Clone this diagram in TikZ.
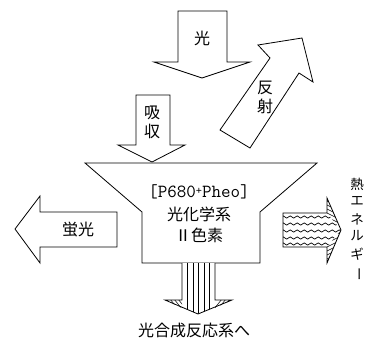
\documentclass[tikz,border=0pt]{standalone}
\usepackage{fontspec}
\newfontfamily\jp{Noto Sans CJK JP}
\usetikzlibrary{decorations.pathmorphing}
\begin{document}
\begin{tikzpicture}[x=1pt,y=-1pt, line width=0.8pt, line join=miter,
  arrowshape/.style={draw=black, fill=white},
  lbl/.style={font=\jp\fontsize{16}{16}\selectfont, inner sep=0pt},
  vlbl/.style={font=\jp\fontsize{13.5}{13.5}\selectfont, inner sep=0pt},
  hatch/.style={line width=0.5pt},
  wave/.style={line width=0.7pt, decorate, decoration={snake, amplitude=1.1pt, segment length=7pt}}]
\useasboundingbox (0,0) rectangle (369,339);

% light arrow
\draw[arrowshape] (178,11) -- (227,11) -- (227,62) -- (250,62) -- (202,78) -- (154,62) -- (178,62) -- cycle;
\node[lbl] (hikari) at (202,38) {光};

% reflection arrow
\draw[arrowshape] (220,130) -- (270,58) -- (258,45) -- (302,38) -- (313,82) -- (299,73) -- (250,148) -- cycle;
\node[lbl] (han) at (265,88) {反};
\node[lbl] (sha) at (265,106) {射};

% absorption arrow
\draw[arrowshape] (136,95) -- (170,95) -- (170,145) -- (185,145) -- (152,162) -- (118,145) -- (136,145) -- cycle;
\node[lbl] (kyu) at (152,113) {吸};
\node[lbl] (shu) at (152,131) {収};

% funnel (pigment system)
\draw[arrowshape] (85,163) -- (317,163) -- (260,212) -- (260,263) -- (142,263) -- (142,212) -- cycle;
\node[inner sep=0pt, font=\ttfamily\fontsize{18.5}{18.5}\selectfont] (p680) at (199,192) {[P680\raisebox{0.4ex}{\fontsize{12}{12}\selectfont +}Pheo]};
\node[lbl] (kei) at (199,214) {光化学系};
\node[lbl] (shiki) at (199,235) {Ⅱ色素};

% fluorescence arrow
\draw[arrowshape] (117,212) -- (117,247) -- (40,247) -- (40,263) -- (15,229) -- (40,196) -- (40,212) -- cycle;
\node[lbl] (keikou) at (78,230) {蛍光};

% heat arrow
\fill[white] (283,213) -- (327,213) -- (327,198) -- (341,230) -- (327,263) -- (327,247) -- (283,247) -- cycle;
\begin{scope}
  \clip (283,213) -- (327,213) -- (341,230) -- (327,247) -- (283,247) -- cycle;
  \foreach \yy in {217,224,231,238,244}
    \draw[wave] (281,\yy) -- (345,\yy);
\end{scope}
\begin{scope}
  \clip (327,198) -- (341,230) -- (327,213) -- cycle;
  \foreach \t in {196,200,...,216}
    \draw[hatch] (325,\t) -- (343,\t+9);
\end{scope}
\begin{scope}
  \clip (327,263) -- (341,230) -- (327,247) -- cycle;
  \foreach \t in {240,244,...,264}
    \draw[hatch] (325,\t) -- (343,\t-9);
\end{scope}
\draw (283,213) -- (327,213) -- (327,198) -- (341,230) -- (327,263) -- (327,247) -- (283,247) -- cycle;
\node[vlbl] (netsu) at (357,184) {熱};
\node[vlbl] (e) at (357,201) {エ};
\node[vlbl] (ne) at (357,219) {ネ};
\node[vlbl] (ru) at (357,236) {ル};
\node[vlbl] (gi) at (357,254) {ギ};
\node[vlbl, rotate=-90] (bar) at (357,274) {ー};

% output arrow to photosynthesis reactions
\fill[white] (182,263) -- (182,300) -- (165,300) -- (198,314) -- (232,300) -- (215,300) -- (215,263) -- cycle;
\begin{scope}
  \clip (182,263) -- (182,300) -- (165,300) -- (198,314) -- (232,300) -- (215,300) -- (215,263) -- cycle;
  \foreach \xx in {187.5,193,198.5,204,209.5}
    \draw[line width=0.6pt] (\xx,263) -- (\xx,316);
\end{scope}
\begin{scope}
  \clip (165,300) -- (182,300) -- (182,308) -- cycle;
  \foreach \t in {170,174,178,182}
    \draw[hatch] (\t,299) -- (\t+8,309);
\end{scope}
\begin{scope}
  \clip (232,300) -- (215,300) -- (215,308) -- cycle;
  \foreach \t in {214,218,222,226}
    \draw[hatch] (\t,309) -- (\t+8,299);
\end{scope}
\draw (182,263) -- (182,300) -- (165,300) -- (198,314) -- (232,300) -- (215,300) -- (215,263);
\node[lbl] (hanno) at (194,330) {光合成反応系へ};
\end{tikzpicture}
\end{document}
